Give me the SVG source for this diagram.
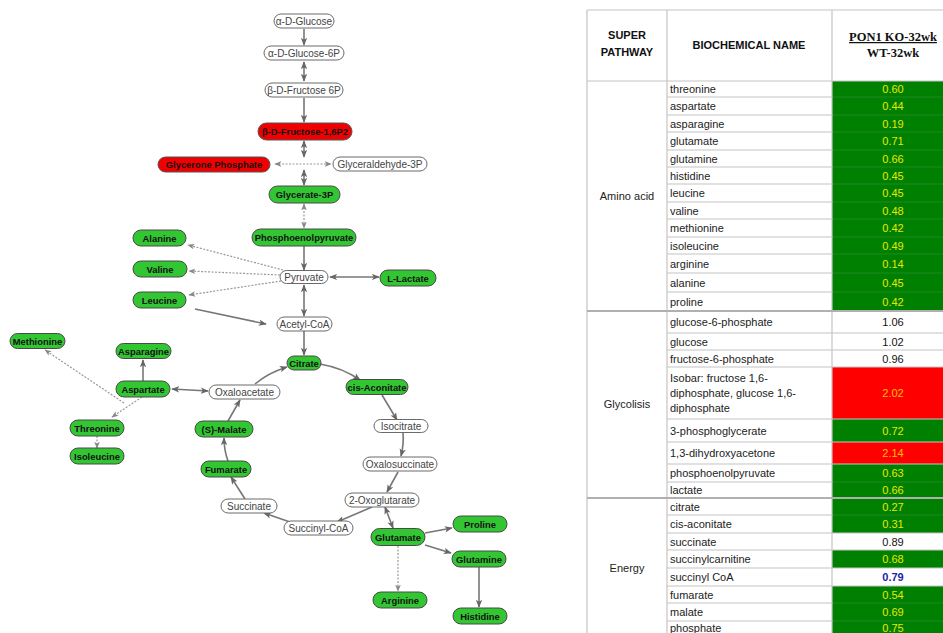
<svg xmlns="http://www.w3.org/2000/svg" width="943" height="633" viewBox="0 0 943 633">
<defs>
<style>
.g rect{fill:#33c633;stroke:#4a4a4a;stroke-width:1}
.w rect{fill:#fff;stroke:#6a6a6a;stroke-width:1}
.r rect{fill:#f00000;stroke:#555;stroke-width:1}
.g text,.r text{font-family:"Liberation Sans",Arial,sans-serif;font-size:9.4px;font-weight:bold;fill:#111;text-anchor:middle}
.w text{font-family:"Liberation Sans",Arial,sans-serif;font-size:10px;fill:#444;text-anchor:middle}
.s{stroke:#777;stroke-width:1.6;fill:none;marker-end:url(#ah)}
.d{stroke:#999;stroke-width:1.2;stroke-dasharray:2 1.5;fill:none;marker-end:url(#ahd)}
.b{marker-start:url(#ahs)}
.bd{marker-start:url(#ahds)}
.t{font-family:"Liberation Sans",Arial,sans-serif;font-size:11px;fill:#222}
.h{font-family:"Liberation Sans",Arial,sans-serif;font-size:11px;font-weight:bold;fill:#111;text-anchor:middle}
.v{font-family:"Liberation Sans",Arial,sans-serif;font-size:11px;text-anchor:middle;fill:#e8e800}
.vk{fill:#111}
.vr{fill:#ffc000}
.grid{stroke:#c4c4c4;stroke-width:1.2}
.sec{stroke:#b0b0b0;stroke-width:2}
</style>
<marker id="ah" viewBox="0 0 10 8" refX="9" refY="4" markerWidth="8" markerHeight="7" markerUnits="userSpaceOnUse" orient="auto"><path d="M0,0 L10,4 L0,8 L2.5,4 z" fill="#666"/></marker>
<marker id="ahs" viewBox="0 0 10 8" refX="9" refY="4" markerWidth="8" markerHeight="7" markerUnits="userSpaceOnUse" orient="auto-start-reverse"><path d="M0,0 L10,4 L0,8 L2.5,4 z" fill="#666"/></marker>
<marker id="ahd" viewBox="0 0 10 8" refX="9" refY="4" markerWidth="7" markerHeight="6" markerUnits="userSpaceOnUse" orient="auto"><path d="M0,0 L10,4 L0,8 L2.5,4 z" fill="#888"/></marker>
<marker id="ahds" viewBox="0 0 10 8" refX="9" refY="4" markerWidth="7" markerHeight="6" markerUnits="userSpaceOnUse" orient="auto-start-reverse"><path d="M0,0 L10,4 L0,8 L2.5,4 z" fill="#888"/></marker>
</defs>
<rect width="943" height="633" fill="#fff"/>

<g id="connectors">
<path class="s" d="M304,29 L304,45"/>
<path class="s b" d="M304,62 L304,81"/>
<path class="s" d="M304,98 L304,122"/>
<path class="s b" d="M304,141 L304,157"/>
<path class="s b" d="M304,170 L304,185"/>
<path class="d bd" d="M275,164 L331,164"/>
<path class="d bd" d="M304,204 L304,228"/>
<path class="s" d="M304,246 L304,270"/>
<path class="d" d="M283,270 L188,245"/>
<path class="d" d="M280,275 L189,271"/>
<path class="d" d="M281,281 L189,295"/>
<path class="s b" d="M330,277 L379,277"/>
<path class="s b" d="M304,285 L304,316"/>
<path class="s" d="M195,309 L266,324"/>
<path class="s" d="M304,331 L304,355"/>
<path class="s" d="M255,384 Q268,373 287,367"/>
<path class="s" d="M320,364 Q343,368 360,380"/>
<path class="s" d="M382,395 L397,420"/>
<path class="s" d="M403,433 Q404,444 401,456"/>
<path class="s" d="M398,472 L387,492"/>
<path class="s" d="M372,507 L337,522"/>
<path class="s" d="M290,522 L264,513"/>
<path class="s" d="M245,499 L231,477"/>
<path class="s" d="M228,461 Q224,450 224,438"/>
<path class="s" d="M228,421 L240,400"/>
<path class="s" d="M143,381 L143,360"/>
<path class="s b" d="M172,389 L208,391"/>
<path class="d" d="M124,403 L45,350"/>
<path class="d" d="M142,397 L112,417"/>
<path class="d" d="M97,436 L97,448"/>
<path class="s b" d="M385,507 L393,528"/>
<path class="s" d="M425,533 L452,528"/>
<path class="s" d="M425,545 L451,553"/>
<path class="d" d="M398,546 L398,591"/>
<path class="s" d="M479,567 L479,607"/>
</g>

<g id="n-glucose" class="w"><rect x="274" y="14" width="60" height="14" rx="7"/><text x="304" y="24.5">α-D-Glucose</text></g>
<g id="n-glucose6p" class="w"><rect x="264" y="46" width="80" height="14" rx="7"/><text x="304" y="56.5">α-D-Glucose-6P</text></g>
<g id="n-fructose6p" class="w"><rect x="265" y="83" width="78" height="14" rx="7"/><text x="304" y="93.5">β-D-Fructose 6P</text></g>
<g id="n-fructose16p2" class="r"><rect x="258" y="123" width="94" height="17" rx="8.5"/><text x="305" y="135">β-D-Fructose-1,6P2</text></g>
<g id="n-glycerone" class="r"><rect x="158" y="157" width="112" height="15" rx="7.5"/><text x="214" y="168">Glycerone Phosphate</text></g>
<g id="n-glyceraldehyde" class="w"><rect x="333" y="157" width="94" height="14" rx="7"/><text x="380" y="167.5">Glyceraldehyde-3P</text></g>
<g id="n-glycerate" class="g"><rect x="269" y="186" width="71" height="17" rx="8.5"/><text x="304.5" y="198">Glycerate-3P</text></g>
<g id="n-pep" class="g"><rect x="252" y="229" width="104" height="17" rx="8.5"/><text x="304" y="241">Phosphoenolpyruvate</text></g>
<g id="n-alanine" class="g"><rect x="133" y="230" width="53" height="16" rx="8"/><text x="159.5" y="241.5">Alanine</text></g>
<g id="n-valine" class="g"><rect x="133" y="261" width="54" height="16" rx="8"/><text x="160" y="272.5">Valine</text></g>
<g id="n-leucine" class="g"><rect x="133" y="292" width="53" height="16" rx="8"/><text x="159.5" y="303.5">Leucine</text></g>
<g id="n-pyruvate" class="w"><rect x="280" y="270.5" width="48" height="13" rx="6.5"/><text x="304" y="280.5">Pyruvate</text></g>
<g id="n-lactate" class="g"><rect x="380" y="270" width="56" height="16" rx="8"/><text x="408" y="281.5">L-Lactate</text></g>
<g id="n-acetylcoa" class="w"><rect x="277" y="317" width="55" height="14" rx="7"/><text x="304.5" y="327.5">Acetyl-CoA</text></g>
<g id="n-methionine" class="g"><rect x="10" y="333.5" width="55" height="15" rx="7.5"/><text x="37.5" y="344.5">Methionine</text></g>
<g id="n-asparagine" class="g"><rect x="116" y="343.5" width="55" height="15" rx="7.5"/><text x="143.5" y="354.5">Asparagine</text></g>
<g id="n-aspartate" class="g"><rect x="116" y="381" width="54" height="16" rx="8"/><text x="143" y="392.5">Aspartate</text></g>
<g id="n-oxaloacetate" class="w"><rect x="209" y="385" width="71" height="14" rx="7"/><text x="244.5" y="395.5">Oxaloacetate</text></g>
<g id="n-citrate" class="g"><rect x="287" y="356" width="34" height="14" rx="7"/><text x="304" y="366.5">Citrate</text></g>
<g id="n-cisaconitate" class="g"><rect x="346" y="379.5" width="62" height="15" rx="7.5"/><text x="377" y="390.5">cis-Aconitate</text></g>
<g id="n-isocitrate" class="w"><rect x="374" y="419.5" width="54" height="13" rx="6.5"/><text x="401" y="429.5">Isocitrate</text></g>
<g id="n-oxalosuccinate" class="w"><rect x="363" y="457" width="74" height="14" rx="7"/><text x="400" y="467.5">Oxalosuccinate</text></g>
<g id="n-threonine" class="g"><rect x="70" y="420" width="54" height="16" rx="8"/><text x="97" y="431.5">Threonine</text></g>
<g id="n-isoleucine" class="g"><rect x="70" y="448" width="54" height="16" rx="8"/><text x="97" y="459.5">Isoleucine</text></g>
<g id="n-malate" class="g"><rect x="195" y="421" width="58" height="16" rx="8"/><text x="224" y="432.5">(S)-Malate</text></g>
<g id="n-fumarate" class="g"><rect x="201" y="461" width="50" height="16" rx="8"/><text x="226" y="472.5">Fumarate</text></g>
<g id="n-oxoglutarate" class="w"><rect x="345" y="493" width="74" height="14" rx="7"/><text x="382" y="503.5">2-Oxoglutarate</text></g>
<g id="n-succinate" class="w"><rect x="221" y="499" width="56" height="14" rx="7"/><text x="249" y="509.5">Succinate</text></g>
<g id="n-succinylcoa" class="w"><rect x="284" y="521" width="69" height="14" rx="7"/><text x="318.5" y="531.5">Succinyl-CoA</text></g>
<g id="n-glutamate" class="g"><rect x="371" y="528.5" width="54" height="17" rx="8.5"/><text x="398" y="540.5">Glutamate</text></g>
<g id="n-proline" class="g"><rect x="453" y="516" width="54" height="16" rx="8"/><text x="480" y="527.5">Proline</text></g>
<g id="n-glutamine" class="g"><rect x="452" y="551" width="54" height="16" rx="8"/><text x="479" y="562.5">Glutamine</text></g>
<g id="n-arginine" class="g"><rect x="373" y="592" width="54" height="16" rx="8"/><text x="400" y="603.5">Arginine</text></g>
<g id="n-histidine" class="g"><rect x="453" y="608" width="54" height="16" rx="8"/><text x="480" y="619.5">Histidine</text></g>

<g id="table">
<g fill="#008000">
<rect x="832" y="81" width="111" height="230"/>
<rect x="832" y="419" width="111" height="23"/>
<rect x="832" y="464" width="111" height="34"/>
<rect x="832" y="498" width="111" height="35"/>
<rect x="832" y="550" width="111" height="18"/>
<rect x="832" y="586" width="111" height="47"/>
</g>
<g fill="#ff0000">
<rect x="832" y="367" width="111" height="52"/>
<rect x="832" y="442" width="111" height="22"/>
</g>
<g stroke="#2a8a2a" stroke-width="0.8">
<line x1="832" y1="97" x2="943" y2="97"/><line x1="832" y1="115" x2="943" y2="115"/><line x1="832" y1="132" x2="943" y2="132"/>
<line x1="832" y1="150" x2="943" y2="150"/><line x1="832" y1="167" x2="943" y2="167"/><line x1="832" y1="184" x2="943" y2="184"/>
<line x1="832" y1="202" x2="943" y2="202"/><line x1="832" y1="219" x2="943" y2="219"/><line x1="832" y1="237" x2="943" y2="237"/>
<line x1="832" y1="254" x2="943" y2="254"/><line x1="832" y1="273" x2="943" y2="273"/><line x1="832" y1="292" x2="943" y2="292"/>
<line x1="832" y1="482" x2="943" y2="482"/><line x1="832" y1="515" x2="943" y2="515"/><line x1="832" y1="603" x2="943" y2="603"/><line x1="832" y1="621" x2="943" y2="621"/>
</g>
<g class="grid">
<line x1="587" y1="10" x2="943" y2="10"/>
<line x1="587" y1="81" x2="943" y2="81"/>
<line x1="587" y1="10" x2="587" y2="633"/>
<line x1="667" y1="10" x2="667" y2="633"/>
<line x1="832" y1="10" x2="832" y2="633"/>
<line x1="667" y1="97" x2="832" y2="97"/><line x1="667" y1="115" x2="832" y2="115"/><line x1="667" y1="132" x2="832" y2="132"/>
<line x1="667" y1="150" x2="832" y2="150"/><line x1="667" y1="167" x2="832" y2="167"/><line x1="667" y1="184" x2="832" y2="184"/>
<line x1="667" y1="202" x2="832" y2="202"/><line x1="667" y1="219" x2="832" y2="219"/><line x1="667" y1="237" x2="832" y2="237"/>
<line x1="667" y1="254" x2="832" y2="254"/><line x1="667" y1="273" x2="832" y2="273"/><line x1="667" y1="292" x2="832" y2="292"/>
<line x1="667" y1="333" x2="943" y2="333"/><line x1="667" y1="350" x2="943" y2="350"/><line x1="667" y1="367" x2="943" y2="367"/>
<line x1="667" y1="419" x2="943" y2="419"/><line x1="667" y1="442" x2="943" y2="442"/><line x1="667" y1="464" x2="943" y2="464"/>
<line x1="667" y1="482" x2="832" y2="482"/>
<line x1="667" y1="515" x2="832" y2="515"/><line x1="667" y1="533" x2="943" y2="533"/><line x1="667" y1="550" x2="943" y2="550"/>
<line x1="667" y1="568" x2="943" y2="568"/><line x1="667" y1="586" x2="943" y2="586"/><line x1="667" y1="603" x2="832" y2="603"/>
<line x1="667" y1="621" x2="832" y2="621"/>
</g>
<g class="sec">
<line x1="587" y1="311" x2="943" y2="311"/>
<line x1="587" y1="498" x2="943" y2="498"/>
</g>
<text class="h" x="627" y="39">SUPER</text>
<text class="h" x="627" y="56">PATHWAY</text>
<text class="h" x="749" y="49">BIOCHEMICAL NAME</text>
<text x="893" y="41" font-family="'Liberation Serif','Times New Roman',serif" font-size="12.5px" font-weight="bold" fill="#111" text-anchor="middle" text-decoration="underline">PON1 KO-32wk</text>
<text x="893" y="57" font-family="'Liberation Serif','Times New Roman',serif" font-size="12.5px" font-weight="bold" fill="#111" text-anchor="middle">WT-32wk</text>
<text class="t" x="627" y="200" text-anchor="middle">Amino acid</text>
<text class="t" x="627" y="408" text-anchor="middle">Glycolisis</text>
<text class="t" x="627" y="572" text-anchor="middle">Energy</text>
<g class="t">
<text x="670" y="93">threonine</text>
<text x="670" y="110">aspartate</text>
<text x="670" y="127.5">asparagine</text>
<text x="670" y="145">glutamate</text>
<text x="670" y="162.5">glutamine</text>
<text x="670" y="179.5">histidine</text>
<text x="670" y="197">leucine</text>
<text x="670" y="214.5">valine</text>
<text x="670" y="232">methionine</text>
<text x="670" y="249.5">isoleucine</text>
<text x="670" y="267.5">arginine</text>
<text x="670" y="286.5">alanine</text>
<text x="670" y="305.5">proline</text>
<text x="670" y="326">glucose-6-phosphate</text>
<text x="670" y="345.5">glucose</text>
<text x="670" y="362.5">fructose-6-phosphate</text>
<text x="670" y="382">Isobar: fructose 1,6-</text>
<text x="670" y="397">diphosphate, glucose 1,6-</text>
<text x="670" y="412">diphosphate</text>
<text x="670" y="434.5">3-phosphoglycerate</text>
<text x="670" y="457">1,3-dihydroxyacetone</text>
<text x="670" y="477">phosphoenolpyruvate</text>
<text x="670" y="494">lactate</text>
<text x="670" y="510.5">citrate</text>
<text x="670" y="528">cis-aconitate</text>
<text x="670" y="545.5">succinate</text>
<text x="670" y="563">succinylcarnitine</text>
<text x="670" y="581">succinyl CoA</text>
<text x="670" y="598.5">fumarate</text>
<text x="670" y="616">malate</text>
<text x="670" y="632">phosphate</text>
</g>
<g class="v">
<text x="893" y="93">0.60</text>
<text x="893" y="110">0.44</text>
<text x="893" y="127.5">0.19</text>
<text x="893" y="145">0.71</text>
<text x="893" y="162.5">0.66</text>
<text x="893" y="179.5">0.45</text>
<text x="893" y="197">0.45</text>
<text x="893" y="214.5">0.48</text>
<text x="893" y="232">0.42</text>
<text x="893" y="249.5">0.49</text>
<text x="893" y="267.5">0.14</text>
<text x="893" y="286.5">0.45</text>
<text x="893" y="305.5">0.42</text>
<text class="vk" x="893" y="326">1.06</text>
<text class="vk" x="893" y="345.5">1.02</text>
<text class="vk" x="893" y="362.5">0.96</text>
<text class="vr" x="893" y="397">2.02</text>
<text x="893" y="434.5">0.72</text>
<text class="vr" x="893" y="457">2.14</text>
<text x="893" y="477">0.63</text>
<text x="893" y="494">0.66</text>
<text x="893" y="510.5">0.27</text>
<text x="893" y="528">0.31</text>
<text class="vk" x="893" y="545.5">0.89</text>
<text x="893" y="563">0.68</text>
<text x="893" y="581" style="fill:#1c1ca8;font-weight:bold">0.79</text>
<text x="893" y="598.5">0.54</text>
<text x="893" y="616">0.69</text>
<text x="893" y="632">0.75</text>
</g>
</g>
</svg>
